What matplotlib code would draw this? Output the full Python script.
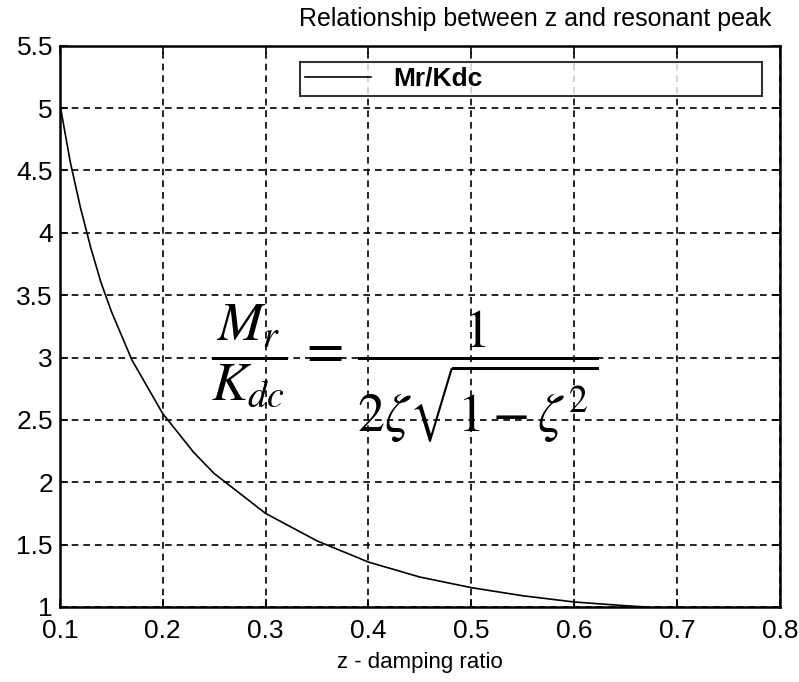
import matplotlib
matplotlib.use('Agg')
import matplotlib.pyplot as plt

# values
z = [0.10, 0.11, 0.12, 0.13, 0.14, 0.15, 0.17, 0.20, 0.23, 0.25, 0.30, 0.35,
     0.40, 0.45, 0.50, 0.55, 0.60, 0.65, 0.67]
mr_kdc = [5.03, 4.57, 4.20, 3.88, 3.60, 3.37, 2.98, 2.55, 2.24, 2.07, 1.75, 1.53,
          1.36, 1.24, 1.155, 1.09, 1.04, 1.01, 1.0]

xticks = [0.1, 0.2, 0.3, 0.4, 0.5, 0.6, 0.7, 0.8]
yticks = [1, 1.5, 2, 2.5, 3, 3.5, 4, 4.5, 5, 5.5]

plt.rcParams['font.family'] = ['Liberation Sans', 'DejaVu Sans']
plt.rcParams['mathtext.fontset'] = 'stix'

fig = plt.figure(figsize=(7.99, 6.82), dpi=100)
ax = fig.add_axes([0.075, 0.11, 0.901, 0.823])

ax.plot(z, mr_kdc, color='black', linewidth=1.2, label='Mr/Kdc')

ax.set_xlim(0.1, 0.8)
ax.set_ylim(1, 5.5)
ax.set_xticks(xticks)
ax.set_yticks(yticks)
ax.set_xticklabels([str(t) for t in xticks])
ax.set_yticklabels(['1', '1.5', '2', '2.5', '3', '3.5', '4', '4.5', '5', '5.5'])
ax.tick_params(direction='in', top=True, right=True, length=6, width=1.2,
               labelsize=19)
ax.tick_params(axis='x', pad=9)
ax.tick_params(axis='y', pad=5)
ax.grid(True, color='black', linestyle=(0, (4, 3)), linewidth=1.2)
for s in ax.spines.values():
    s.set_linewidth(1.8)

leg = ax.legend(loc='upper left', bbox_to_anchor=(0.333, 0.909, 0.642, 0.0625),
                mode='expand', fontsize=19, frameon=True, fancybox=False,
                handlelength=2.5, borderpad=0.2, handletextpad=0.85,
                borderaxespad=0)
leg.get_frame().set_edgecolor('black')
leg.get_frame().set_linewidth(1.5)
for t in leg.get_texts():
    t.set_fontweight('bold')

# formula drawn on the plot
ax.text(0.479, 0.415, r'$\dfrac{M_r}{K_{dc}}\,=\,\dfrac{1}{2\zeta\sqrt{1-\zeta^2}}$',
        transform=ax.transAxes, fontsize=39, ha='center', va='center')

fig.text(0.965, 0.972, 'Relationship between z and resonant peak', fontsize=18,
         ha='right', va='center')
ax.set_xlabel('z - damping ratio', fontsize=16, labelpad=6)

fig.savefig('out.png', dpi=100)
